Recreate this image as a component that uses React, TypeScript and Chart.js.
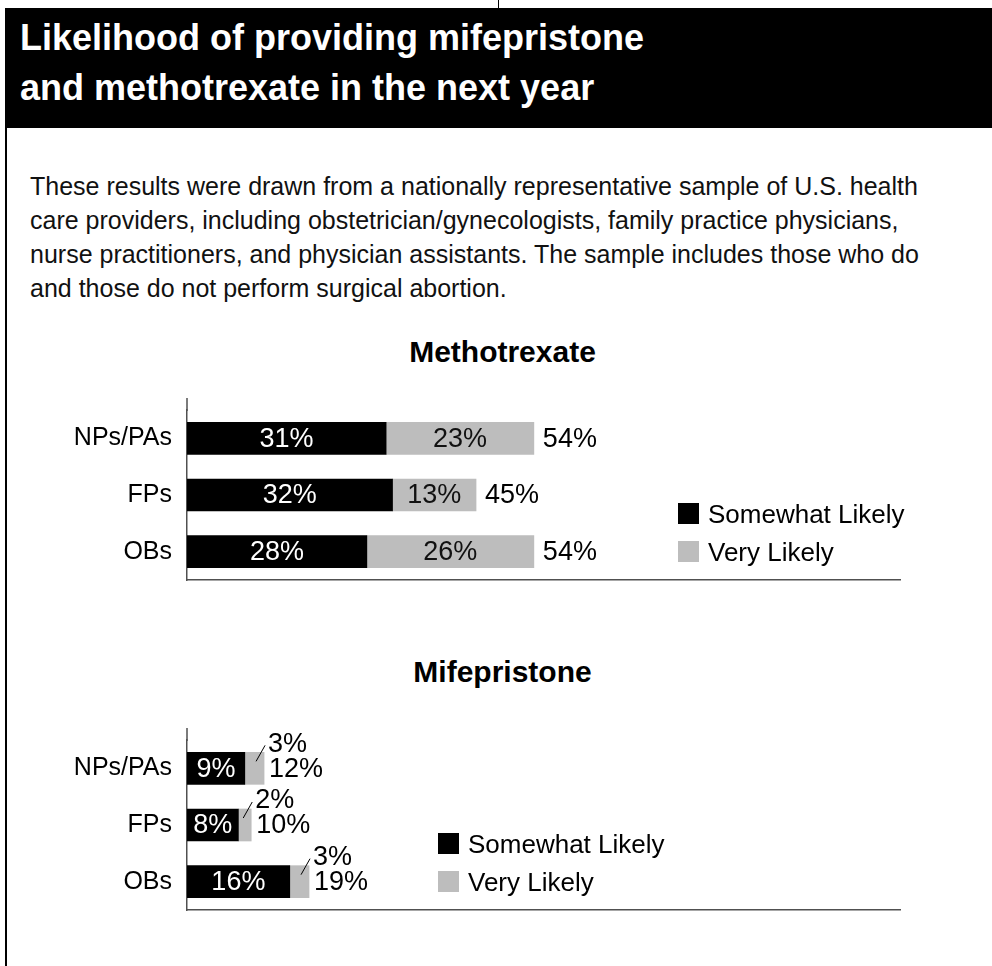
import React, { useEffect, useRef } from 'react';
import { Chart, registerables } from 'chart.js';

Chart.register(...registerables);

// ---- data ----
const categories = ['NPs/PAs', 'FPs', 'OBs'];
const seriesNames = ['Somewhat Likely', 'Very Likely'];
const methSomewhat = [31, 32, 28];
const methVery = [23, 13, 26];
const methTotal = [54, 45, 54];
const mifeSomewhat = [9, 8, 16];
const mifeVery = [3, 2, 3];
const mifeTotal = [12, 10, 19];
const xMax = 111;

const headerLines = ['Likelihood of providing mifepristone', 'and methotrexate in the next year'];
const introLines = [
  'These results were drawn from a nationally representative sample of U.S. health',
  'care providers, including obstetrician/gynecologists, family practice physicians,',
  'nurse practitioners, and physician assistants. The sample includes those who do',
  'and those do not perform surgical abortion.',
];

const FONT = "'Liberation Sans', Arial, Helvetica, sans-serif";
const BLACK = '#000000';
const GRAY = '#bdbdbd';
const AXIS = '#505050';

type PanelProps = {
  top: number;
  somewhat: number[];
  very: number[];
  totals: number[];
  mode: 'inside' | 'callout';
  legendX: number;
};

function BarPanel({ top, somewhat, very, totals, mode, legendX }: PanelProps) {
  const ref = useRef<HTMLCanvasElement | null>(null);

  useEffect(() => {
    if (!ref.current) return;

    const labelPlugin = {
      id: 'barLabels',
      afterDatasetsDraw(chart: any) {
        const ctx = chart.ctx;
        const m0 = chart.getDatasetMeta(0);
        const m1 = chart.getDatasetMeta(1);
        ctx.save();
        ctx.font = `27px ${FONT}`;
        ctx.textBaseline = 'middle';
        m0.data.forEach((bar: any, i: number) => {
          const a = bar.getProps(['x', 'y', 'base', 'height'], true);
          const b = m1.data[i].getProps(['x', 'y', 'base', 'height'], true);
          // somewhat likely label (white, inside black segment)
          ctx.fillStyle = '#ffffff';
          ctx.textAlign = 'center';
          ctx.fillText(`${somewhat[i]}%`, (a.x + a.base) / 2, a.y + 1);
          if (mode === 'inside') {
            ctx.fillStyle = '#111111';
            ctx.fillText(`${very[i]}%`, (b.x + b.base) / 2, b.y + 1);
            ctx.fillStyle = '#000000';
            ctx.textAlign = 'left';
            ctx.fillText(`${totals[i]}%`, b.x + 9, b.y + 1);
          } else {
            const barTop = b.y - b.height / 2;
            ctx.strokeStyle = '#000000';
            ctx.lineWidth = 1;
            ctx.beginPath();
            ctx.moveTo(b.x - 8, barTop + 9);
            ctx.lineTo(b.x + 1, barTop - 7);
            ctx.stroke();
            ctx.fillStyle = '#000000';
            ctx.textAlign = 'left';
            ctx.fillText(`${very[i]}%`, b.x + 4, b.y - 24);
            ctx.fillText(`${totals[i]}%`, b.x + 5, b.y + 1);
          }
        });
        ctx.restore();
      },
      afterDraw(chart: any) {
        const ctx = chart.ctx;
        const area = chart.chartArea;
        ctx.save();
        // small extension of the value axis line above the plot
        ctx.strokeStyle = AXIS;
        ctx.lineWidth = 1.5;
        ctx.beginPath();
        ctx.moveTo(area.left, area.top - 12);
        ctx.lineTo(area.left, area.top + 1);
        ctx.stroke();
        // legend inside plot area
        const colors = [BLACK, GRAY];
        const offsets = [77, 39];
        ctx.font = `26px ${FONT}`;
        ctx.textBaseline = 'middle';
        ctx.textAlign = 'left';
        chart.data.datasets.forEach((ds: any, k: number) => {
          const by = area.bottom - offsets[k];
          ctx.fillStyle = colors[k];
          ctx.fillRect(legendX, by, 21, 21);
          ctx.fillStyle = '#000000';
          ctx.fillText(ds.label, legendX + 30, by + 12.5);
        });
        ctx.restore();
      },
    };

    const chart = new Chart(ref.current, {
      type: 'bar',
      data: {
        labels: categories,
        datasets: [
          { label: seriesNames[0], data: somewhat, backgroundColor: BLACK, barThickness: 32 },
          { label: seriesNames[1], data: very, backgroundColor: GRAY, barThickness: 32 },
        ],
      },
      options: {
        indexAxis: 'y',
        responsive: false,
        animation: false,
        events: [],
        layout: { padding: { top: 21, bottom: 17, left: 0, right: 92 } },
        plugins: {
          legend: { display: false },
          tooltip: { enabled: false },
          title: { display: false },
        },
        scales: {
          x: {
            stacked: true,
            min: 0,
            max: xMax,
            grid: { display: false, drawTicks: false },
            border: { display: true, color: AXIS, width: 1.5 },
            ticks: { display: false },
            afterFit: (s: any) => {
              s.height = 0;
            },
          },
          y: {
            stacked: true,
            grid: { display: false, drawTicks: false },
            border: { display: true, color: AXIS, width: 1.5 },
            ticks: { color: '#000000', padding: 15, font: { family: FONT, size: 25 } },
            afterFit: (s: any) => {
              s.width = 187;
            },
          },
        },
      },
      plugins: [labelPlugin],
    } as any);

    return () => chart.destroy();
  }, [somewhat, very, totals, mode, legendX]);

  return (
    <canvas
      ref={ref}
      width={992}
      height={230}
      style={{ position: 'absolute', left: 0, top, width: 992, height: 230, display: 'block' }}
    />
  );
}

const titleStyle = (top: number): React.CSSProperties => ({
  position: 'absolute',
  left: 502.5,
  top,
  transform: 'translateX(-50%)',
  font: `bold 30px/30px ${FONT}`,
  color: '#000',
  whiteSpace: 'nowrap',
});

export default function App() {
  return (
    <div
      style={{
        position: 'absolute',
        left: 0,
        top: 0,
        width: 992,
        height: 966,
        overflow: 'hidden',
        background: '#ffffff',
        fontFamily: FONT,
      }}
    >
      <div style={{ position: 'absolute', left: 498, top: 0, width: 1, height: 8, background: '#000' }} />
      <div
        style={{
          position: 'absolute',
          left: 5,
          top: 8,
          width: 987,
          height: 120,
          background: '#000',
        }}
      >
        <div
          style={{
            position: 'absolute',
            left: 15,
            top: 4.5,
            color: '#fff',
            font: `bold 36px/50px ${FONT}`,
            whiteSpace: 'nowrap',
          }}
        >
          {headerLines[0]}
          <br />
          {headerLines[1]}
        </div>
      </div>
      <div style={{ position: 'absolute', left: 5, top: 128, width: 2, height: 838, background: '#000' }} />
      <div
        style={{
          position: 'absolute',
          left: 30,
          top: 169,
          font: `25px/34px ${FONT}`,
          color: '#111',
          whiteSpace: 'nowrap',
        }}
      >
        {introLines.map((l, i) => (
          <div key={i}>{l}</div>
        ))}
      </div>
      <div style={titleStyle(336.5)}>Methotrexate</div>
      <BarPanel top={380} somewhat={methSomewhat} very={methVery} totals={methTotal} mode="inside" legendX={678} />
      <div style={titleStyle(656.5)}>Mifepristone</div>
      <BarPanel top={710} somewhat={mifeSomewhat} very={mifeVery} totals={mifeTotal} mode="callout" legendX={438} />
    </div>
  );
}
